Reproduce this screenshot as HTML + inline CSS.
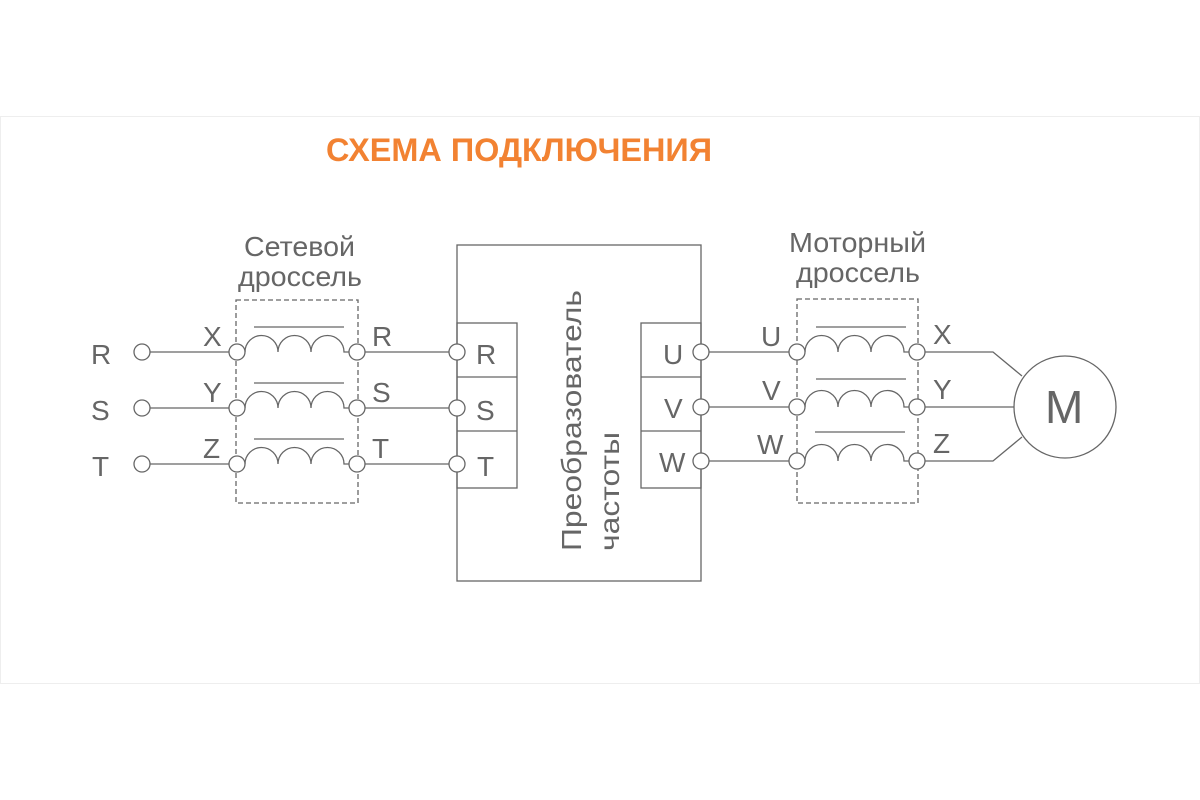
<!DOCTYPE html>
<html><head><meta charset="utf-8"><style>html,body{margin:0;padding:0;background:#fff}svg{display:block}</style></head><body>
<svg width="1200" height="800" viewBox="0 0 1200 800" xmlns="http://www.w3.org/2000/svg" font-family="Liberation Sans, sans-serif">
<rect x="0.5" y="116.5" width="1199" height="567" fill="none" stroke="#eeeeee" stroke-width="1"/>
<text x="326" y="161" font-size="32" font-weight="bold" fill="#f28232" textLength="386" lengthAdjust="spacingAndGlyphs">СХЕМА ПОДКЛЮЧЕНИЯ</text>
<g stroke="#666" stroke-width="1.3" fill="none">
  <rect x="236" y="300" width="122" height="203" stroke-dasharray="5,3"/>
  <rect x="797" y="299" width="121" height="204" stroke-dasharray="5,3"/>
  <rect x="457" y="245" width="244" height="336"/>
  <rect x="457" y="323" width="60" height="165"/>
  <line x1="457" y1="377" x2="517" y2="377"/><line x1="457" y1="431" x2="517" y2="431"/>
  <rect x="641" y="323" width="60" height="165"/>
  <line x1="641" y1="377" x2="701" y2="377"/><line x1="641" y1="431" x2="701" y2="431"/>
  <line x1="150" y1="352" x2="229" y2="352"/><line x1="150" y1="408" x2="229" y2="408"/><line x1="150" y1="464" x2="229" y2="464"/>
  <line x1="365" y1="352" x2="449" y2="352"/><line x1="365" y1="408" x2="449" y2="408"/><line x1="365" y1="464" x2="449" y2="464"/>
  <line x1="709" y1="352" x2="789" y2="352"/><line x1="709" y1="407" x2="789" y2="407"/><line x1="709" y1="461" x2="789" y2="461"/>
  <polyline points="925,352 993,352 1022,376"/>
  <line x1="925" y1="407" x2="1014" y2="407"/>
  <polyline points="925,461 993,461 1022,437"/>
  <circle cx="1065" cy="407" r="51"/>
  <line x1="254" y1="327" x2="344" y2="327"/><line x1="254" y1="383" x2="344" y2="383"/><line x1="254" y1="439" x2="344" y2="439"/>
  <line x1="816" y1="327" x2="906" y2="327"/><line x1="816" y1="379" x2="906" y2="379"/><line x1="815" y1="432" x2="905" y2="432"/>
  <path d="M245,352 A16.5,16.5 0 0 1 278,352 A16.5,16.5 0 0 1 311,352 A16.5,16.5 0 0 1 344,352 L349,352"/>
  <path d="M245,408 A16.5,16.5 0 0 1 278,408 A16.5,16.5 0 0 1 311,408 A16.5,16.5 0 0 1 344,408 L349,408"/>
  <path d="M245,464 A16.5,16.5 0 0 1 278,464 A16.5,16.5 0 0 1 311,464 A16.5,16.5 0 0 1 344,464 L349,464"/>
  <path d="M805,352 A16.5,16.5 0 0 1 838,352 A16.5,16.5 0 0 1 871,352 A16.5,16.5 0 0 1 904,352 L909,352"/>
  <path d="M805,407 A16.5,16.5 0 0 1 838,407 A16.5,16.5 0 0 1 871,407 A16.5,16.5 0 0 1 904,407 L909,407"/>
  <path d="M805,461 A16.5,16.5 0 0 1 838,461 A16.5,16.5 0 0 1 871,461 A16.5,16.5 0 0 1 904,461 L909,461"/>
</g>
<g stroke="#666" stroke-width="1.3" fill="#fff">
  <circle cx="142" cy="352" r="8"/><circle cx="142" cy="408" r="8"/><circle cx="142" cy="464" r="8"/>
  <circle cx="237" cy="352" r="8"/><circle cx="237" cy="408" r="8"/><circle cx="237" cy="464" r="8"/>
  <circle cx="357" cy="352" r="8"/><circle cx="357" cy="408" r="8"/><circle cx="357" cy="464" r="8"/>
  <circle cx="457" cy="352" r="8"/><circle cx="457" cy="408" r="8"/><circle cx="457" cy="464" r="8"/>
  <circle cx="701" cy="352" r="8"/><circle cx="701" cy="407" r="8"/><circle cx="701" cy="461" r="8"/>
  <circle cx="797" cy="352" r="8"/><circle cx="797" cy="407" r="8"/><circle cx="797" cy="461" r="8"/>
  <circle cx="917" cy="352" r="8"/><circle cx="917" cy="407" r="8"/><circle cx="917" cy="461" r="8"/>
</g>
<g fill="#666" font-size="28">
  <text x="91" y="364">R</text><text x="91" y="420">S</text><text x="92" y="476">T</text>
  <text x="203" y="346">X</text><text x="203" y="402">Y</text><text x="203" y="458">Z</text>
  <text x="372" y="346">R</text><text x="372" y="402">S</text><text x="372" y="458">T</text>
  <text x="476" y="364">R</text><text x="476" y="420">S</text><text x="477" y="476">T</text>
  <text x="663" y="364">U</text><text x="664" y="418">V</text><text x="659" y="472">W</text>
  <text x="761" y="346">U</text><text x="762" y="400">V</text><text x="757" y="454">W</text>
  <text x="933" y="344">X</text><text x="933" y="399">Y</text><text x="933" y="453">Z</text>
  <text x="244" y="256" textLength="111" lengthAdjust="spacingAndGlyphs">Сетевой</text>
  <text x="238" y="286" textLength="124" lengthAdjust="spacingAndGlyphs">дроссель</text>
  <text x="789" y="252" textLength="137" lengthAdjust="spacingAndGlyphs">Моторный</text>
  <text x="796" y="282" textLength="124" lengthAdjust="spacingAndGlyphs">дроссель</text>
  <text x="1045" y="423" font-size="46">M</text>
  <text transform="translate(581,551) rotate(-90)" textLength="261" lengthAdjust="spacingAndGlyphs">Преобразователь</text>
  <text transform="translate(619,551) rotate(-90)" textLength="119" lengthAdjust="spacingAndGlyphs">частоты</text>
</g>
</svg>
</body></html>
